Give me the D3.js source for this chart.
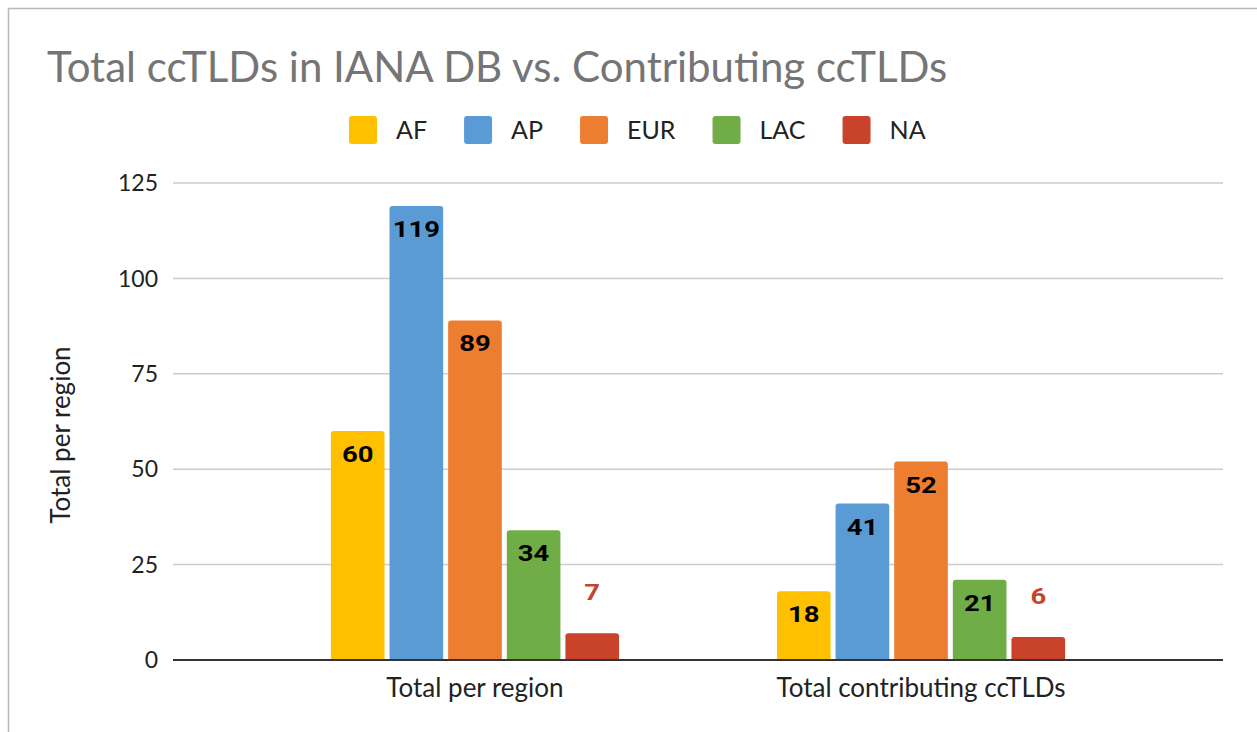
<!DOCTYPE html>
<html>
<head>
<meta charset="utf-8">
<script src="https://cdn.jsdelivr.net/npm/d3@7"></script>
<style>
  body { margin: 0; background: #fff; }
  text { font-family: Lato, "Open Sans", sans-serif; }
  text.value { font-family: Roboto, sans-serif; font-weight: bold; }
</style>
</head>
<body>
<svg id="canvas"></svg>
<script>
(function () {

    const width = 1257;
    const height = 732;
    const plot = { left: 173, right: 1223, top: 183, bottom: 660 };

    const titleText = "Total ccTLDs in IANA DB vs. Contributing ccTLDs";
    const yTitle = "Total per region";
    const categories = ["Total per region", "Total contributing ccTLDs"];
    const series = ["AF", "AP", "EUR", "LAC", "NA"];
    const colors = ["#ffc000", "#5b9bd5", "#ed7d31", "#70ad47", "#c9432a"];
    const totalPerRegion = [60, 119, 89, 34, 7];
    const contributing = [18, 41, 52, 21, 6];
    const yTicks = [0, 25, 50, 75, 100, 125];

    const values = [totalPerRegion, contributing];
    const rows = [];
    categories.forEach((c, i) => {
        series.forEach((s, j) => rows.push({ cat: c, series: s, value: values[i][j] }));
    });

    const svg = d3.select("#canvas")
        .attr("width", width)
        .attr("height", height);

    // outer frame (only top and left edges fall inside the picture)
    svg.append("rect")
        .attr("x", 8.5).attr("y", 8.5)
        .attr("width", width + 20).attr("height", height + 20)
        .attr("fill", "#fff")
        .attr("stroke", "#b8b8b8")
        .attr("stroke-width", 1.5);

    svg.append("text")
        .attr("x", 47)
        .attr("y", 82)
        .attr("font-size", 42)
        .attr("fill", "#757575")
        .text(titleText);

    const y = d3.scaleLinear().domain([0, 125]).range([plot.bottom, plot.top]);

    const x = d3.scaleBand()
        .domain(categories)
        .range([plot.left, plot.right])
        .paddingInner(0.354)
        .paddingOuter(0.354);

    const xs = d3.scaleBand()
        .domain(series)
        .range([0, x.bandwidth()])
        .paddingInner(0.085);

    const color = d3.scaleOrdinal().domain(series).range(colors);

    // gridlines
    svg.append("g")
        .selectAll("line")
        .data(yTicks.filter(d => d > 0))
        .enter()
        .append("line")
        .attr("x1", plot.left).attr("x2", plot.right)
        .attr("y1", d => y(d)).attr("y2", d => y(d))
        .attr("stroke", "#cccccc")
        .attr("stroke-width", 1.5);

    // y axis labels
    svg.append("g")
        .selectAll("text")
        .data(yTicks)
        .enter()
        .append("text")
        .attr("x", 158)
        .attr("y", d => y(d))
        .attr("dy", "0.36em")
        .attr("text-anchor", "end")
        .attr("font-size", 23)
        .attr("fill", "#222")
        .text(d => d);

    svg.append("text")
        .attr("transform", `translate(70,435) rotate(-90)`)
        .attr("text-anchor", "middle")
        .attr("font-size", 26)
        .attr("fill", "#222")
        .text(yTitle);

    // bars
    const barTop = d => y(d.value);
    const r = 3;
    const barPath = d => {
        const x0 = x(d.cat) + xs(d.series), w = xs.bandwidth();
        const t = barTop(d), b = y(0);
        return `M${x0},${b}V${t + r}Q${x0},${t} ${x0 + r},${t}H${x0 + w - r}Q${x0 + w},${t} ${x0 + w},${t + r}V${b}Z`;
    };

    svg.append("g")
        .selectAll("path")
        .data(rows)
        .enter()
        .append("path")
        .attr("d", barPath)
        .attr("fill", d => color(d.series));

    // baseline
    svg.append("line")
        .attr("x1", plot.left).attr("x2", plot.right)
        .attr("y1", y(0)).attr("y2", y(0))
        .attr("stroke", "#333")
        .attr("stroke-width", 2);

    // data labels (inside the bar, or above it when the bar is short)
    const labelX = d => x(d.cat) + xs(d.series) + xs.bandwidth() / 2;
    const labelY = d => d.value >= 15 ? barTop(d) + 31 : barTop(d) - 33;
    svg.append("g")
        .selectAll("text")
        .data(rows)
        .enter()
        .append("text")
        .attr("class", "value")
        .attr("transform", d => `translate(${labelX(d)},${labelY(d)}) scale(1.22,1)`)
        .attr("text-anchor", "middle")
        .attr("font-size", 22.5)
        .attr("fill", d => d.value >= 15 ? "#000" : color(d.series))
        .text(d => d.value);

    // x labels
    svg.append("g")
        .selectAll("text")
        .data(categories)
        .enter()
        .append("text")
        .attr("x", d => x(d) + x.bandwidth() / 2)
        .attr("y", 697)
        .attr("text-anchor", "middle")
        .attr("font-size", 26)
        .attr("fill", "#222")
        .text(d => d);

    // legend
    const legend = svg.append("g");
    let lx = 349;
    series.forEach((s, i) => {
        legend.append("rect")
            .attr("x", lx).attr("y", 116)
            .attr("width", 28).attr("height", 28)
            .attr("rx", 3)
            .attr("fill", color(s));
        const t = legend.append("text")
            .attr("x", lx + 47)
            .attr("y", 130)
            .attr("dy", "0.36em")
            .attr("font-size", 25)
            .attr("fill", "#222")
            .text(s);
        lx += 47 + t.node().getComputedTextLength() + 37;
    });

})();
</script>
</body>
</html>
